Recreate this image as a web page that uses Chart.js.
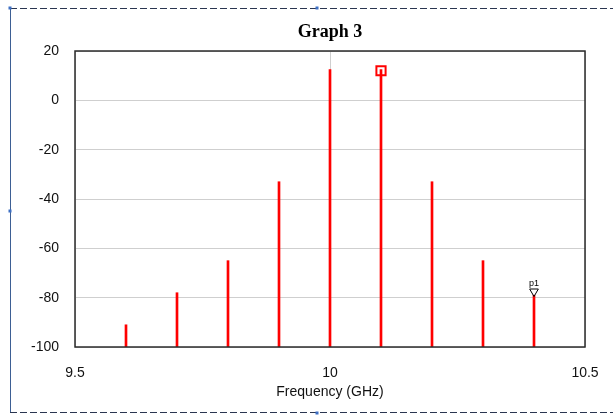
<!DOCTYPE html>
<html lang="en">
<head>
  <meta charset="UTF-8">
  <title>Graph 3</title>
  <script src="https://cdn.jsdelivr.net/npm/chart.js"></script>
  <style>
    html, body { margin: 0; padding: 0; background: #fff; }
    #wrap { width: 613px; height: 416px; }
  </style>
</head>
<body>
  <div id="wrap"><canvas id="chart" width="613" height="416"></canvas></div>

  <script>
    // spectrum lines (GHz / dB)
    const freqs = [9.6, 9.7, 9.8, 9.9, 10.0, 10.1, 10.2, 10.3, 10.4];
    const power = [-91, -78, -65, -33, 12.5, 12.5, -33, -65, -79];
    const squareMarker = [{ x: 10.1, y: 12 }];
    const p1Marker = [{ x: 10.4, y: -77.5 }];
    const yTicks = [20, 0, -20, -40, -60, -80, -100];
    const xTicks = [9.5, 10, 10.5];

    const FLOOR = -100;

    // frame around the whole graph + box around plot area + title + p1 label
    const decor = {
      id: "decor",
      beforeDraw(chart) {
        const c = chart.ctx;
        c.save();
        c.strokeStyle = "#3d5f94";
        c.lineWidth = 1;
        c.beginPath();
        c.moveTo(10.5, 8); c.lineTo(10.5, 413);
        c.stroke();
        c.setLineDash([7, 3]);
        c.strokeStyle = "#2a3550";
        c.beginPath();
        c.moveTo(10, 8.5); c.lineTo(613, 8.5);
        c.moveTo(10, 412.5); c.lineTo(613, 412.5);
        c.stroke();
        c.setLineDash([]);
        c.fillStyle = "#3d6fc4";
        [[10, 8], [317, 8], [10, 211], [317, 413]].forEach(p => c.fillRect(p[0] - 1.5, p[1] - 1.5, 3, 3));
        c.restore();
      },
      afterDraw(chart) {
        const c = chart.ctx;
        const a = chart.chartArea;
        c.save();
        c.strokeStyle = "#2b2b2b";
        c.lineWidth = 1.5;
        c.strokeRect(a.left, a.top, a.right - a.left, a.bottom - a.top);
        c.fillStyle = "#000";
        c.font = "bold 18px 'Liberation Serif', 'Times New Roman', serif";
        c.textAlign = "center";
        c.textBaseline = "alphabetic";
        c.fillText("Graph 3", (a.left + a.right) / 2, 37);
        const xs = chart.scales.x, ys = chart.scales.y;
        c.font = "9px 'Liberation Sans', Arial, sans-serif";
        c.fillText("p1", xs.getPixelForValue(p1Marker[0].x), ys.getPixelForValue(p1Marker[0].y) - 6);
        c.restore();
      }
    };

    const ctx = document.getElementById("chart").getContext("2d");
    new Chart(ctx, {
      type: "bar",
      data: {
        datasets: [
          {
            type: "bar",
            data: freqs.map((f, i) => ({ x: f, y: [FLOOR, power[i]] })),
            backgroundColor: "#ff0000",
            borderWidth: 0,
            barThickness: 2,
            grouped: false,
            order: 2
          },
          {
            type: "scatter",
            data: squareMarker,
            pointStyle: "rect",
            pointRadius: 6.5,
            borderColor: "#ff0000",
            backgroundColor: "rgba(255,255,255,0)",
            borderWidth: 2,
            order: 1
          },
          {
            type: "scatter",
            data: p1Marker,
            pointStyle: "triangle",
            rotation: 180,
            pointRadius: 5,
            borderColor: "#000",
            backgroundColor: "rgba(255,255,255,0)",
            borderWidth: 1,
            order: 0
          }
        ]
      },
      options: {
        responsive: false,
        animation: false,
        layout: { padding: { top: 51, right: 28, left: 0, bottom: 0 } },
        plugins: { legend: { display: false }, tooltip: { enabled: false }, title: { display: false } },
        scales: {
          x: {
            type: "linear",
            min: 9.5,
            max: 10.5,
            offset: false,
            afterBuildTicks: s => { s.ticks = xTicks.map(v => ({ value: v })); },
            afterFit: s => { s.height = 69; s.paddingRight = 0; s.paddingLeft = 0; },
            grid: { offset: false, color: "#cfcfcf", drawTicks: false },
            border: { display: false },
            ticks: {
              padding: 18, color: "#111", maxRotation: 0,
              font: { family: "'Liberation Sans', Arial, sans-serif", size: 14 },
              callback: v => String(v)
            },
            title: {
              display: true,
              text: "Frequency (GHz)",
              color: "#111",
              font: { family: "'Liberation Sans', Arial, sans-serif", size: 14 },
              padding: { top: 2, bottom: 15 }
            }
          },
          y: {
            min: -100,
            max: 20,
            afterBuildTicks: s => { s.ticks = yTicks.map(v => ({ value: v })); },
            afterFit: s => { s.width = 75; },
            grid: { color: "#cfcfcf", drawTicks: false },
            border: { display: false },
            ticks: { padding: 16, color: "#111", font: { family: "'Liberation Sans', Arial, sans-serif", size: 14 } }
          }
        }
      },
      plugins: [decor]
    });
  </script>
</body>
</html>
